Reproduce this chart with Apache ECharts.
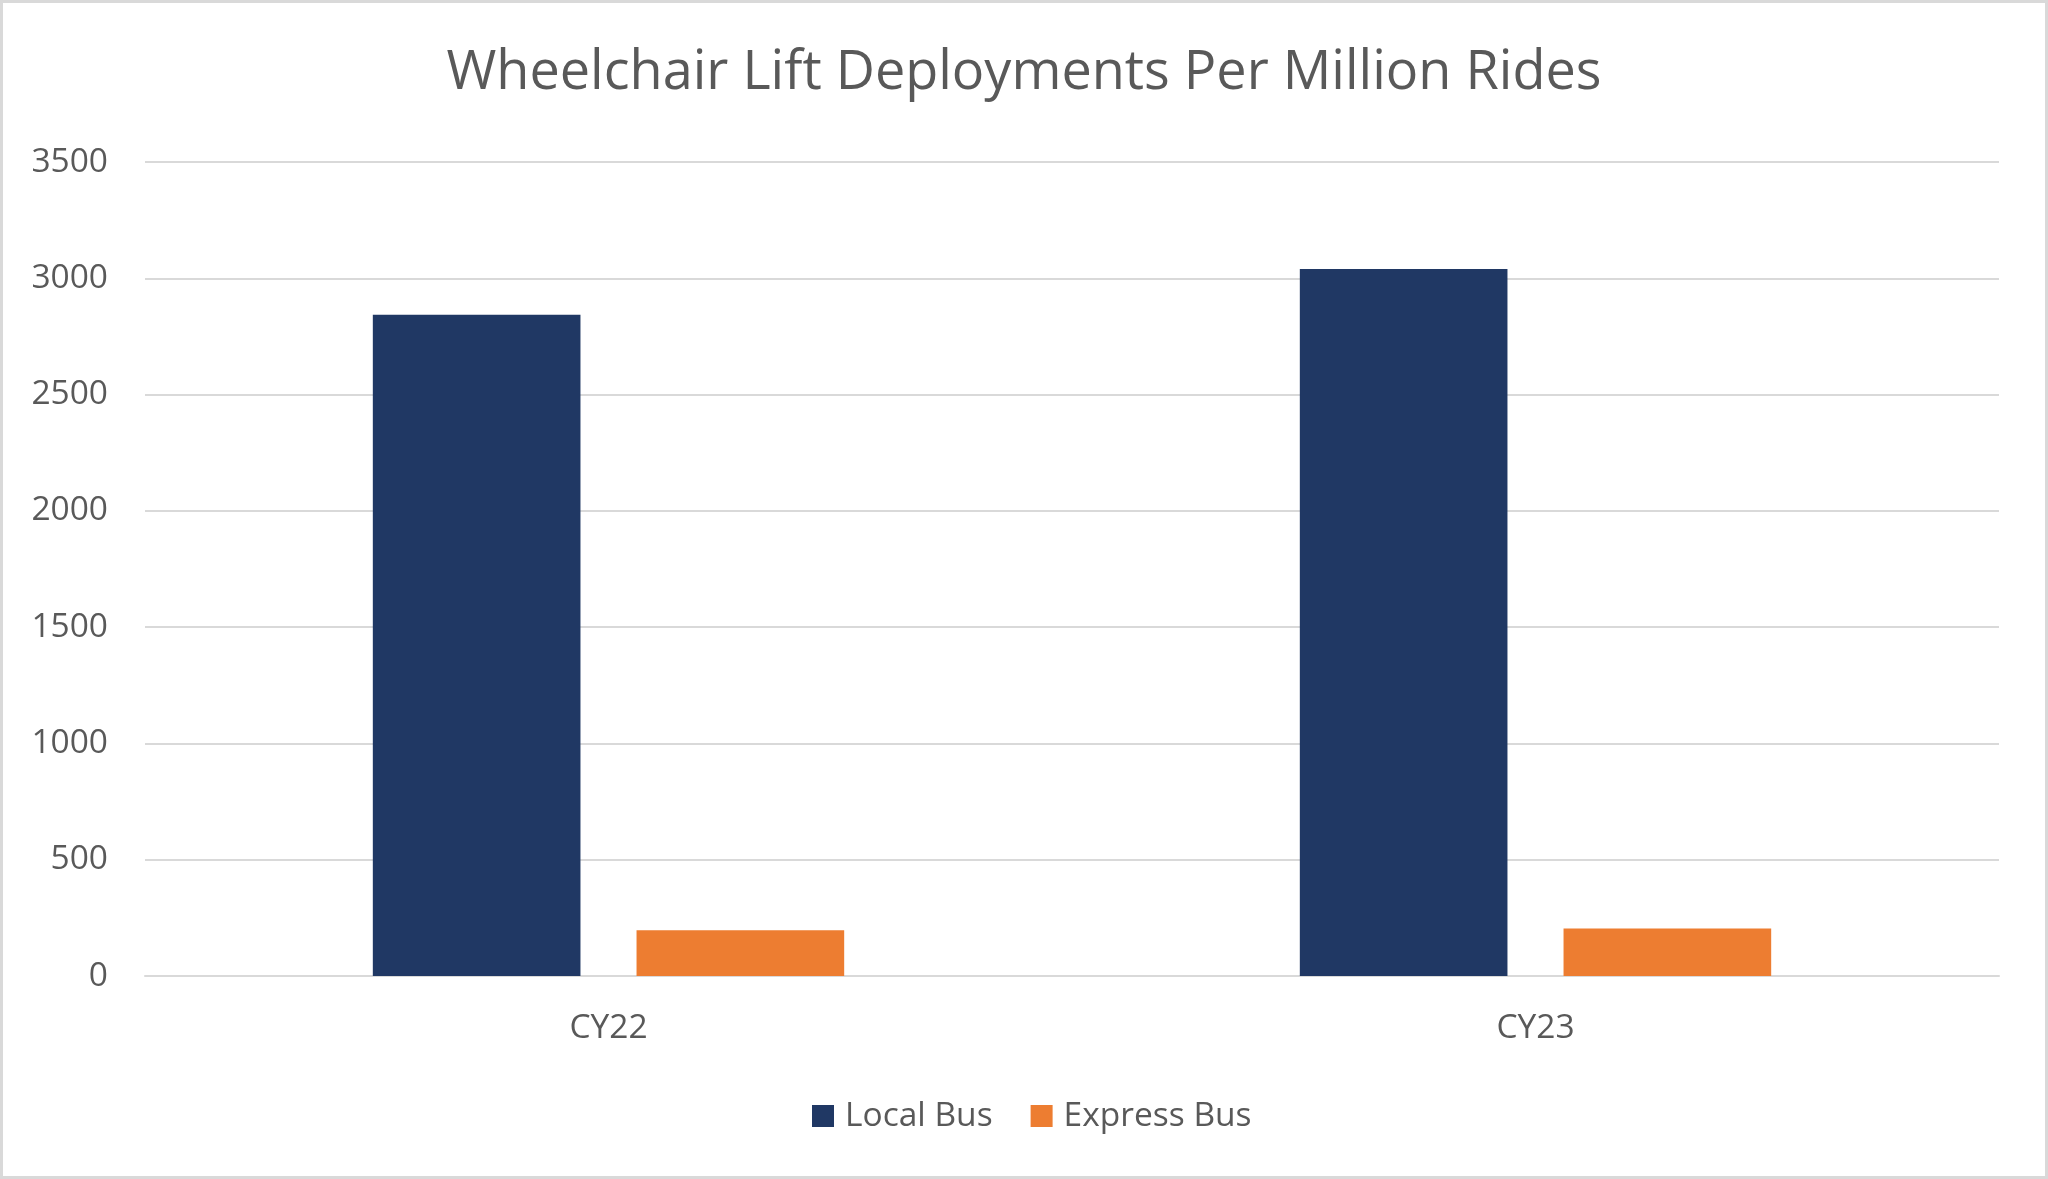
<!DOCTYPE html>
<html>
<head>
<meta charset="utf-8">
<script src="https://cdn.jsdelivr.net/npm/echarts@6/dist/echarts.min.js"></script>
<style>
html,body{margin:0;padding:0;background:#fff;}
#chart{width:2048px;height:1179px;}
</style>
</head>
<body>
<div id="chart"></div>
<script>
const categories = ["CY22", "CY23"];
const localBus = [2843, 3040];
const expressBus = [197, 204];
const seriesNames = ["Local Bus", "Express Bus"];
const titleText = "Wheelchair Lift Deployments Per Million Rides";

const FONT = "'Open Sans', 'Noto Sans', sans-serif";
const TXT = "#595959";

const chart = echarts.init(document.getElementById('chart'), null, {renderer: 'canvas'});
chart.setOption({
  backgroundColor: '#ffffff',
  animation: false,
  graphic: [{
    type: 'rect',
    shape: {x: 1.5, y: 1.5, width: 2045, height: 1176},
    style: {fill: 'none', stroke: '#d9d9d9', lineWidth: 3},
    silent: true
  }],
  title: {
    text: titleText,
    left: 'center',
    top: 42,
    textStyle: {fontFamily: FONT, fontSize: 54, fontWeight: 'normal', color: TXT}
  },
  legend: {
    data: seriesNames,
    left: 812,
    top: 1099,
    padding: 0,
    itemWidth: 22,
    itemHeight: 22,
    itemGap: 38,
    icon: 'rect',
    textStyle: {fontFamily: FONT, fontSize: 33.5, color: TXT, padding: [0, 0, 0, 6]}
  },
  grid: {left: 145, right: 49, top: 162, bottom: 203, containLabel: false},
  xAxis: {
    type: 'category',
    data: categories,
    axisLine: {show: true, lineStyle: {color: '#d9d9d9', width: 2}},
    axisTick: {show: false},
    axisLabel: {fontFamily: FONT, fontSize: 33.5, color: TXT, margin: 35}
  },
  yAxis: {
    type: 'value',
    min: 0,
    max: 3500,
    interval: 500,
    axisLine: {show: false},
    axisTick: {show: false},
    axisLabel: {fontFamily: FONT, fontSize: 33.5, color: TXT, margin: 37, formatter: function (v) { return String(v); }},
    splitLine: {lineStyle: {color: '#d9d9d9', width: 2}}
  },
  series: [
    {
      name: seriesNames[0],
      type: 'bar',
      data: localBus,
      barWidth: '22.4%',
      barGap: '27%',
      itemStyle: {color: '#203864'}
    },
    {
      name: seriesNames[1],
      type: 'bar',
      data: expressBus,
      barWidth: '22.4%',
      itemStyle: {color: '#ED7D31'}
    }
  ]
});
</script>
</body>
</html>
